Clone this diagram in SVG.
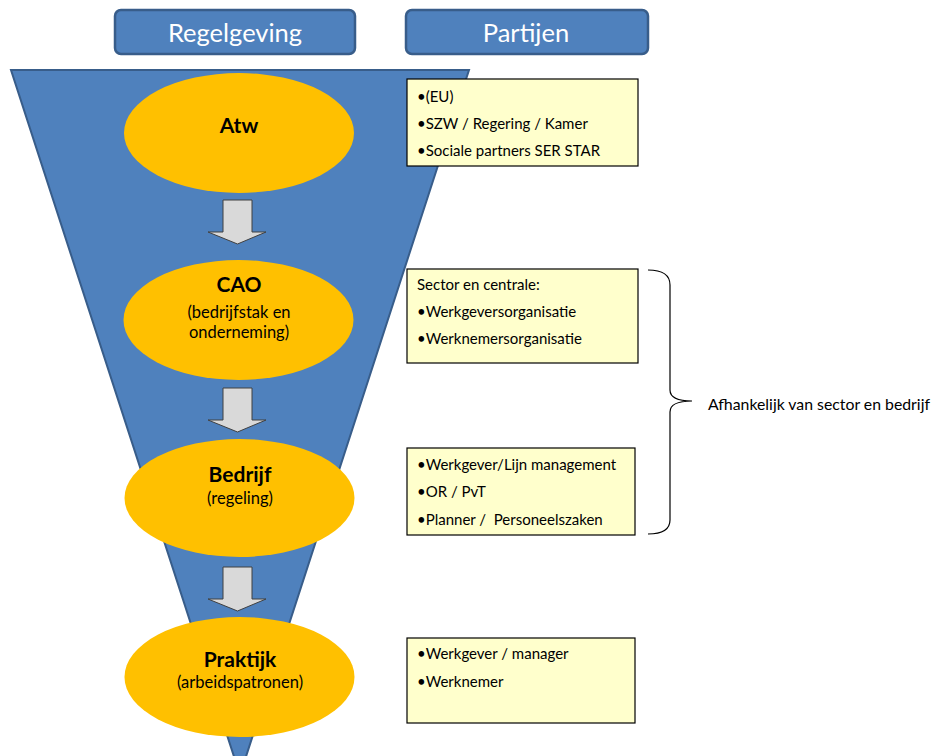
<svg xmlns="http://www.w3.org/2000/svg" width="934" height="756" viewBox="0 0 934 756">
<style>
.hdr{fill:#4F81BD;stroke:#385D8A;stroke-width:2.5}
.hdrt{font-family:Lato,"Liberation Sans",sans-serif;font-size:25.5px;fill:#fff;text-anchor:middle}
.ell{fill:#FFC000}
.et{font-family:Lato,"Liberation Sans",sans-serif;fill:#000;text-anchor:middle}
.b{font-weight:bold;font-size:21px}
.s{font-size:16.5px}
.arr{fill:#D9D9D9;stroke:#404040;stroke-width:1}
.box{fill:#FFFFCC;stroke:#000;stroke-width:1.2}
.bt{font-family:Lato,"Liberation Sans",sans-serif;font-size:15px;fill:#000;white-space:pre}
</style>
<rect x="0" y="0" width="934" height="756" fill="#fff"/>
<g id="funnel">
<polygon points="11,70 469,70 240,775" fill="#4F81BD" stroke="#385D8A" stroke-width="2"/>
</g>
<g id="header-regelgeving">
<rect class="hdr" x="115" y="10" width="240" height="44" rx="6"/>
<text class="hdrt" x="235" y="42">Regelgeving</text>
</g>
<g id="header-partijen">
<rect class="hdr" x="406" y="10" width="242" height="44" rx="6"/>
<text class="hdrt" x="526" y="42">Partijen</text>
</g>
<g id="connectors">
<path class="arr" d="M223,200 H252 V232 H266 L237.5,244 L208,232 H223 Z"/>
<path class="arr" d="M223,388 H252 V420 H266 L237.5,432 L208,420 H223 Z"/>
<path class="arr" d="M223,567 H252 V599 H266 L237.5,611 L208,599 H223 Z"/>
<path d="M648,270 Q670,270 670,285 V390 Q670,401 692,401 Q670,401 670,412 V520 Q670,534 648,534" fill="none" stroke="#000" stroke-width="1.2"/>
</g>
<g id="node-atw">
<ellipse class="ell" cx="239" cy="133" rx="115" ry="60"/>
<text class="et b" x="239" y="133">Atw</text>
</g>
<g id="node-cao">
<ellipse class="ell" cx="238.5" cy="320" rx="115" ry="60"/>
<text class="et b" x="239" y="292">CAO</text>
<text class="et s" x="239" y="318">(bedrijfstak en</text>
<text class="et s" x="239" y="338">onderneming)</text>
</g>
<g id="node-bedrijf">
<ellipse class="ell" cx="239.5" cy="498" rx="115" ry="59"/>
<text class="et b" x="240" y="482">Bedrijf</text>
<text class="et s" x="240" y="504">(regeling)</text>
</g>
<g id="node-praktijk">
<ellipse class="ell" cx="239.5" cy="677" rx="115" ry="60"/>
<text class="et b" x="240" y="667">Praktijk</text>
<text class="et s" x="240" y="688">(arbeidspatronen)</text>
</g>
<g id="box-1">
<rect class="box" x="407" y="79" width="231" height="87"/>
<text class="bt" x="417" y="102">•(EU)</text>
<text class="bt" x="417" y="129">•SZW / Regering / Kamer</text>
<text class="bt" x="417" y="156">•Sociale partners SER STAR</text>
</g>
<g id="box-2">
<rect class="box" x="407" y="269" width="231" height="94"/>
<text class="bt" x="417" y="290">Sector en centrale:</text>
<text class="bt" x="417" y="317">•Werkgeversorganisatie</text>
<text class="bt" x="417" y="344">•Werknemersorganisatie</text>
</g>
<g id="box-3">
<rect class="box" x="407" y="448" width="228" height="87"/>
<text class="bt" x="417" y="470">•Werkgever/Lijn management</text>
<text class="bt" x="417" y="497">•OR / PvT</text>
<text class="bt" x="417" y="525">•Planner /  Personeelszaken</text>
</g>
<g id="box-4">
<rect class="box" x="407" y="638" width="228" height="85"/>
<text class="bt" x="417" y="659">•Werkgever / manager</text>
<text class="bt" x="417" y="687">•Werknemer</text>
</g>
<g id="label-afhankelijk">
<text class="bt" x="708" y="410" textLength="222" lengthAdjust="spacingAndGlyphs">Afhankelijk van sector en bedrijf</text>
</g>
</svg>
